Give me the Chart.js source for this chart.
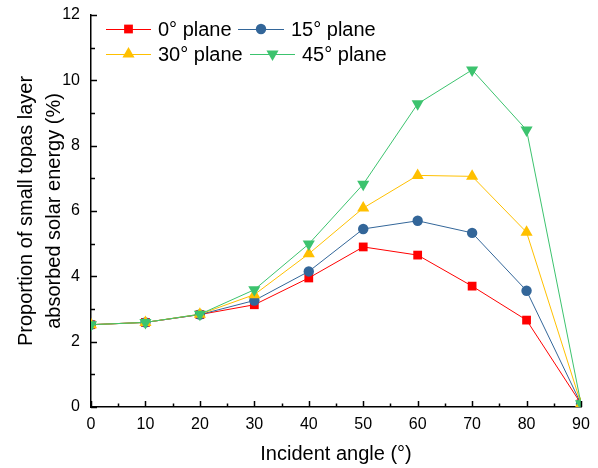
<!DOCTYPE html>
<html>
<head>
<meta charset="utf-8">
<script src="https://cdn.jsdelivr.net/npm/chart.js@4"></script>
<style>
  html, body { margin: 0; padding: 0; background: #fff; }
  #wrap { width: 598px; height: 468px; }
</style>
</head>
<body>
<div id="wrap"><canvas id="lineChart" width="598" height="468"></canvas></div>
<script>
'use strict';

// ***** DATA *****
let angles = [0, 10, 20, 30, 40, 50, 60, 70, 80, 90];
let plane0 = [2.52, 2.59, 2.83, 3.13, 3.95, 4.90, 4.65, 3.70, 2.66, 0.10];
let plane15 = [2.52, 2.59, 2.83, 3.26, 4.15, 5.45, 5.70, 5.33, 3.56, 0.10];
let plane30 = [2.52, 2.59, 2.84, 3.44, 4.69, 6.09, 7.09, 7.06, 5.35, 0.10];
let plane45 = [2.52, 2.59, 2.84, 3.59, 4.99, 6.82, 9.28, 10.32, 8.48, 0.10];
let seriesNames = ['0° plane', '15° plane', '30° plane', '45° plane'];
let xTicks = [0, 10, 20, 30, 40, 50, 60, 70, 80, 90];
let yTicks = [0, 2, 4, 6, 8, 10, 12];

const FONT = '"Liberation Sans", Arial, sans-serif';

function toPoints(values){
  let pts = [];
  for(let i = 0; i < angles.length; i++){
    pts.push({x: angles[i], y: values[i]});
  }
  return pts;
}

function makeSet(label, values, color, style, radius, rotation, order){
  return {
    label: label,
    data: toPoints(values),
    borderColor: color,
    backgroundColor: color,
    borderWidth: 1,
    pointStyle: style,
    pointRadius: radius,
    pointHoverRadius: radius,
    pointBorderWidth: 0,
    pointRotation: rotation,
    order: order,
    tension: 0
  };
}

let datasets = [
  makeSet(seriesNames[0], plane0, '#ff0000', 'rect', 6.2, 0, 4),
  makeSet(seriesNames[1], plane15, '#336699', 'circle', 5.2, 0, 3),
  makeSet(seriesNames[2], plane30, '#ffc000', 'triangle', 7, 0, 2),
  makeSet(seriesNames[3], plane45, '#3cc36e', 'triangle', 7, 180, 1)
];

// ***** PLUGINS *****
// inward major + minor ticks
const tickPlugin = {
  id: 'inTicks',
  afterDatasetsDraw(chart){
    const ctx = chart.ctx;
    const xs = chart.scales.x;
    const ys = chart.scales.y;
    const area = chart.chartArea;
    ctx.save();
    ctx.strokeStyle = '#000';
    ctx.lineWidth = 1.5;
    for(let v = 0; v <= 90; v += 5){
      let px = Math.round(xs.getPixelForValue(v)) + 0.5;
      let len = (v % 10 === 0) ? 6 : 3.5;
      ctx.beginPath();
      ctx.moveTo(px, area.bottom);
      ctx.lineTo(px, area.bottom - len);
      ctx.stroke();
    }
    for(let v = 0; v <= 12; v += 1){
      let py = Math.round(ys.getPixelForValue(v)) + 0.5;
      let len = (v % 2 === 0) ? 6 : 4;
      ctx.beginPath();
      ctx.moveTo(area.left, py);
      ctx.lineTo(area.left + len, py);
      ctx.stroke();
    }
    ctx.restore();
  }
};

// legend in two rows inside the plot
const legendPlugin = {
  id: 'boxLegend',
  afterDraw(chart){
    const ctx = chart.ctx;
    let slots = [
      {x1: 106, x2: 151, tx: 158, y: 29},
      {x1: 238, x2: 284, tx: 291, y: 29},
      {x1: 106, x2: 151, tx: 158, y: 54},
      {x1: 250, x2: 295, tx: 302, y: 54}
    ];
    ctx.save();
    ctx.font = '20px ' + FONT;
    ctx.textBaseline = 'middle';
    ctx.fillStyle = '#000';
    for(let i = 0; i < slots.length; i++){
      let ds = chart.data.datasets[i];
      let s = slots[i];
      ctx.strokeStyle = ds.borderColor;
      ctx.lineWidth = 1;
      ctx.beginPath();
      ctx.moveTo(s.x1, s.y + 0.5);
      ctx.lineTo(s.x2, s.y + 0.5);
      ctx.stroke();
      ctx.fillStyle = ds.backgroundColor;
      Chart.helpers.drawPoint(ctx, {
        pointStyle: ds.pointStyle,
        radius: ds.pointRadius,
        rotation: ds.pointRotation,
        borderWidth: 0
      }, (s.x1 + s.x2) / 2, s.y);
      ctx.fillStyle = '#000';
      ctx.fillText(ds.label, s.tx, s.y + 1);
    }
    ctx.restore();
  }
};

// ***** CHART *****
const canvasElem = document.getElementById('lineChart');

new Chart(canvasElem, {
  type: 'line',
  data: { datasets: datasets },
  options: {
    responsive: false,
    animation: false,
    layout: { padding: { top: 15, right: 17, left: 0, bottom: 0 } },
    plugins: {
      legend: { display: false },
      tooltip: { enabled: false }
    },
    scales: {
      x: {
        type: 'linear',
        min: 0,
        max: 90,
        afterFit: function(scale){ scale.height = 61; },
        afterBuildTicks: function(scale){ scale.ticks = xTicks.map(v => ({value: v})); },
        grid: { display: false },
        border: { display: true, color: '#000', width: 1.5 },
        ticks: {
          color: '#000',
          padding: 0,
          maxRotation: 0,
          font: { family: FONT, size: 16 }
        },
        title: {
          display: true,
          text: 'Incident angle (°)',
          color: '#000',
          padding: { top: 4, bottom: 2 },
          font: { family: FONT, size: 20 }
        }
      },
      y: {
        type: 'linear',
        min: 0,
        max: 12,
        afterFit: function(scale){ scale.width = 91; },
        afterBuildTicks: function(scale){ scale.ticks = yTicks.map(v => ({value: v})); },
        grid: { display: false },
        border: { display: true, color: '#000', width: 1.5 },
        ticks: {
          color: '#000',
          padding: 3,
          font: { family: FONT, size: 16 }
        },
        title: {
          display: true,
          text: ['Proportion of small topas layer', 'absorbed solar energy (%)'],
          color: '#000',
          padding: { top: 12, bottom: 0 },
          font: { family: FONT, size: 20, lineHeight: 1.4 }
        }
      }
    }
  },
  plugins: [tickPlugin, legendPlugin]
});
</script>
</body>
</html>
